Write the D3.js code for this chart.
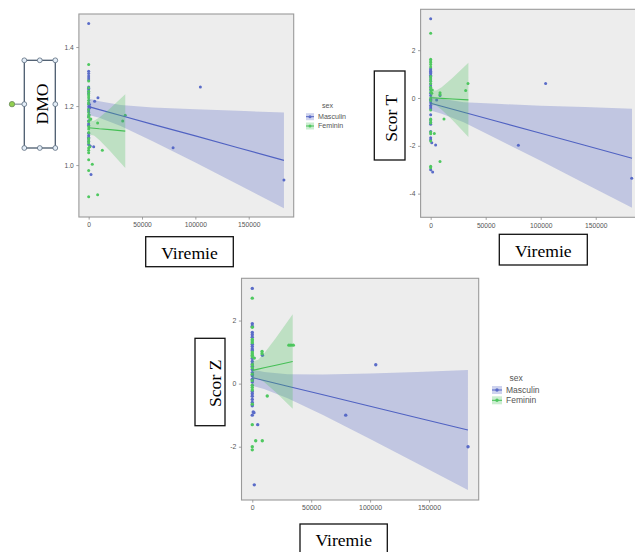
<!DOCTYPE html>
<html>
<head>
<meta charset="utf-8">
<script src="https://cdn.jsdelivr.net/npm/d3@7"></script>
<style>
  html, body { margin: 0; padding: 0; background: #ffffff; }
  svg { display: block; }
</style>
</head>
<body>
<svg id="fig" width="635" height="552"></svg>
<script>
// ---- shared axis values ----
const sexLevels = ["Masculin", "Feminin"];
const viremieTicks = [0, 50000, 100000, 150000];
const viremieTickLabels = ["0", "50000", "100000", "150000"];
const dmoTicks = [1.0, 1.2, 1.4];
const dmoTickLabels = ["1.0", "1.2", "1.4"];
const scorTTicks = [-4, -2, 0, 2];
const scorTTickLabels = ["-4", "-2", "0", "2"];
const scorZTicks = [-2, 0, 2];
const scorZTickLabels = ["-2", "0", "2"];

// ---- observations: [viremie, score] ----
const dmoMasculin = [
  [0,1.48],[0,1.318],[0,1.31],[0,1.302],[0,1.295],[0,1.288],[0,1.265],[0,1.26],[0,1.255],[0,1.248],
  [0,1.242],[0,1.205],[0,1.198],[0,1.19],[0,1.183],[0,1.165],[0,1.15],[0,1.14],[0,1.135],[0,1.108],
  [0,1.1],[0,1.094],[0,1.088],[0,1.08],[0,1.07],[1500,1.065],[1200,1.195],[800,1.205],[5600,1.216],
  [8700,1.228],[4700,1.062],[2200,0.968],[104700,1.265],[79100,1.059],[183000,0.949]
];
const dmoFeminin = [
  [0,1.341],[0,1.285],[0,1.262],[0,1.25],[0,1.242],[0,1.235],[0,1.228],[0,1.22],[0,1.212],[0,1.208],
  [0,1.188],[0,1.178],[0,1.17],[0,1.162],[1500,1.155],[0,1.148],[0,1.13],[0,1.122],[0,1.11],[0,1.09],
  [0,1.082],[0,1.075],[0,1.058],[0,1.05],[0,1.042],[0,1.018],[0,0.982],[0,0.893],[2000,1.156],
  [8400,1.143],[31900,1.149],[34300,1.169],[12800,1.05],[3400,1.003],[8400,0.899],[500,1.17],[1000,1.062]
];
const scorTMasculin = [
  [0,3.31],[0,1.22],[0,1.17],[0,1.12],[0,1.07],[0,1.02],[0,0.95],[0,0.88],[0,0.75],[0,0.6],
  [0,0.5],[0,0.35],[0,0.2],[0,0.1],[0,-0.05],[0,-0.12],[0,-0.2],[0,-0.3],[0,-0.38],[0,-0.45],
  [0,-0.7],[0,-0.9],[0,-1.02],[0,-1.1],[0,-1.4],[0,-1.66],[0,-1.75],[1000,-1.87],[4500,-1.97],
  [0,-3.0],[1800,-3.1],[8500,0.1],[5400,-0.08],[104500,0.61],[79700,-1.98],[182700,-3.36]
];
const scorTFeminin = [
  [0,2.71],[0,1.62],[0,1.55],[0,1.48],[0,1.4],[0,1.3],[0,0.9],[0,0.8],[0,0.7],[0,0.6],
  [0,0.45],[0,0.38],[0,0.25],[0,0.0],[0,-0.1],[0,-0.5],[0,-0.88],[0,-0.95],[0,-1.05],[0,-1.42],
  [0,-1.5],[0,-1.8],[0,-2.85],[0,-2.92],[1500,0.33],[1000,0.2],[3300,-1.48],[8500,-2.66],
  [12100,-0.88],[8500,0.22],[8500,0.15],[31800,0.31],[33900,0.61]
];
const scorZMasculin = [
  [0,3.02],[0,1.9],[0,1.82],[0,1.62],[0,1.55],[0,1.47],[0,1.25],[0,1.18],[0,1.1],[0,1.05],
  [0,0.8],[0,0.7],[0,0.62],[0,0.55],[0,0.45],[0,0.35],[0,0.25],[0,0.14],[0,0.05],[0,-0.25],
  [0,-0.32],[0,-0.4],[0,-0.5],[0,-0.6],[0,-0.7],[800,-0.9],[1400,-0.92],[0,-1.0],[4600,-1.3],
  [1700,-3.21],[8600,0.9],[104800,0.6],[79300,-1.0],[183100,-2.0]
];
const scorZFeminin = [
  [0,2.71],[0,1.79],[0,1.4],[0,1.35],[0,1.3],[0,1.0],[0,0.95],[0,0.9],[0,0.85],[0,0.6],
  [0,0.5],[0,0.3],[0,0.1],[0,-0.05],[0,-0.12],[0,-0.2],[0,-0.65],[0,-1.3],[0,-2.0],[0,-2.1],
  [1700,0.81],[8300,1.02],[8300,0.95],[31100,1.22],[32800,1.22],[34800,1.22],[12700,-0.39],
  [2900,-1.81],[8500,-1.81]
];

// ---- linear fits with 95% confidence band ----
const mascFitX = [0, 10000, 30000, 60000, 100000, 140000, 183000];
const femFitX = [0, 5000, 10000, 20000, 34300];

const dmoMascFit = [1.198, 1.188, 1.168, 1.138, 1.099, 1.059, 1.016];
const dmoMascLo  = [1.170, 1.160, 1.132, 1.081, 1.009, 0.934, 0.854];
const dmoMascHi  = [1.226, 1.216, 1.204, 1.195, 1.189, 1.184, 1.178];
const dmoFemFit  = [1.1265, 1.125, 1.123, 1.120, 1.115];
const dmoFemLo   = [1.104, 1.100, 1.085, 1.048, 0.990];
const dmoFemHi   = [1.150, 1.150, 1.161, 1.192, 1.240];

const scorTMascFit = [-0.22, -0.346, -0.597, -0.974, -1.477, -1.980, -2.52];
const scorTMascLo  = [-0.52, -0.656, -1.017, -1.704, -2.627, -3.580, -4.59];
const scorTMascHi  = [0.08, -0.036, -0.177, -0.244, -0.327, -0.380, -0.45];
const scorTFemFit  = [0.01, -0.003, -0.016, -0.042, -0.08];
const scorTFemLo   = [-0.28, -0.31, -0.49, -0.93, -1.63];
const scorTFemHi   = [0.30, 0.31, 0.45, 0.85, 1.47];

const scorZMascFit = [0.19, 0.099, -0.082, -0.354, -0.717, -1.080, -1.47];
const scorZMascLo  = [-0.07, -0.171, -0.462, -0.994, -1.757, -2.530, -3.37];
const scorZMascHi  = [0.45, 0.369, 0.298, 0.286, 0.323, 0.370, 0.43];
const scorZFemFit  = [0.42, 0.461, 0.502, 0.583, 0.70];
const scorZFemLo   = [0.14, 0.161, 0.052, -0.277, -0.80];
const scorZFemHi   = [0.70, 0.761, 0.952, 1.443, 2.20];

// ---- styling ----
const colour = { Masculin: "#5062c2", Feminin: "#45bf55" };
const pointColour = { Masculin: "#5a6cc8", Feminin: "#4fc860" };
const bandColour = { Masculin: "rgba(80,98,194,0.28)", Feminin: "rgba(69,191,85,0.28)" };

const svg = d3.select("#fig");
const xDomain = [-9150, 192150];

const zip = (xs, fit, lo, hi) => xs.map((x, i) => ({ x, fit: fit[i], lo: lo[i], hi: hi[i] }));

const panels = [
  {
    id: "dmo", rect: { x: 78.9, y: 14, w: 214.8, h: 203 }, yDomain: [0.824, 1.512],
    yTicks: dmoTicks, yLabels: dmoTickLabels, font: 6.7, r: 1.5,
    points: { Masculin: dmoMasculin, Feminin: dmoFeminin },
    fits: {
      Masculin: zip(mascFitX, dmoMascFit, dmoMascLo, dmoMascHi),
      Feminin: zip(femFitX, dmoFemFit, dmoFemLo, dmoFemHi)
    },
    legend: { keyX: 306, titleX: 322, titleY: 105.7, rowY: [116.7, 126], keyW: 8, keyH: 7, font: 7.1 }
  },
  {
    id: "scort", rect: { x: 420.6, y: 9.3, w: 221.5, h: 208 }, yDomain: [-4.99, 3.71],
    yTicks: scorTTicks, yLabels: scorTTickLabels, font: 6.7, r: 1.5,
    points: { Masculin: scorTMasculin, Feminin: scorTFeminin },
    fits: {
      Masculin: zip(mascFitX, scorTMascFit, scorTMascLo, scorTMascHi),
      Feminin: zip(femFitX, scorTFemFit, scorTFemLo, scorTFemHi)
    },
    legend: null
  },
  {
    id: "scorz", rect: { x: 241.5, y: 278.3, w: 237.2, h: 221.7 }, yDomain: [-3.69, 3.34],
    yTicks: scorZTicks, yLabels: scorZTickLabels, font: 6.9, r: 1.7,
    points: { Masculin: scorZMasculin, Feminin: scorZFeminin },
    fits: {
      Masculin: zip(mascFitX, scorZMascFit, scorZMascLo, scorZMascHi),
      Feminin: zip(femFitX, scorZFemFit, scorZFemLo, scorZFemHi)
    },
    legend: { keyX: 492, titleX: 509.5, titleY: 378.3, rowY: [390, 400.3], keyW: 10, keyH: 8, font: 8.5 }
  }
];

panels.forEach(p => {
  const R = p.rect;
  const x = d3.scaleLinear().domain(xDomain).range([R.x, R.x + R.w]);
  const y = d3.scaleLinear().domain(p.yDomain).range([R.y + R.h, R.y]);
  const g = svg.append("g").attr("class", "panel-" + p.id);

  // panel background
  g.append("rect").attr("x", R.x).attr("y", R.y).attr("width", R.w).attr("height", R.h)
    .attr("fill", "#ededed");

  const clipId = "clip-" + p.id;
  g.append("clipPath").attr("id", clipId).append("rect")
    .attr("x", R.x).attr("y", R.y).attr("width", R.w).attr("height", R.h);
  const plot = g.append("g").attr("clip-path", `url(#${clipId})`);

  // points
  sexLevels.forEach(s => {
    plot.append("g").selectAll("circle").data(p.points[s]).join("circle")
      .attr("cx", d => x(d[0])).attr("cy", d => y(d[1])).attr("r", p.r)
      .attr("fill", pointColour[s]);
  });

  // smooth: ribbon then line per group
  const area = d3.area().x(d => x(d.x)).y0(d => y(d.lo)).y1(d => y(d.hi));
  const line = d3.line().x(d => x(d.x)).y(d => y(d.fit));
  sexLevels.forEach(s => {
    plot.append("path").datum(p.fits[s]).attr("d", area).attr("fill", bandColour[s]);
    plot.append("path").datum(p.fits[s]).attr("d", line)
      .attr("fill", "none").attr("stroke", colour[s]).attr("stroke-width", 1.1);
  });

  // border
  g.append("rect").attr("x", R.x).attr("y", R.y).attr("width", R.w).attr("height", R.h)
    .attr("fill", "none").attr("stroke", "#9a9a9a").attr("stroke-width", 1.1);

  // axes
  const styleAxis = sel => {
    sel.select(".domain").remove();
    sel.selectAll(".tick line").attr("stroke", "#8a8a8a").attr("stroke-width", 0.8);
    sel.selectAll(".tick text").attr("fill", "#555555")
      .attr("font-family", "'Liberation Sans', Arial, sans-serif").attr("font-size", p.font);
  };
  g.append("g").attr("transform", `translate(0,${R.y + R.h})`)
    .call(d3.axisBottom(x).tickValues(viremieTicks)
      .tickFormat((d, i) => viremieTickLabels[i]).tickSize(2.6).tickPadding(3))
    .call(styleAxis);
  g.append("g").attr("transform", `translate(${R.x},0)`)
    .call(d3.axisLeft(y).tickValues(p.yTicks)
      .tickFormat((d, i) => p.yLabels[i]).tickSize(2.6).tickPadding(2.5))
    .call(styleAxis);

  // legend
  if (p.legend) {
    const L = p.legend;
    const lg = g.append("g").attr("font-family", "'Liberation Sans', Arial, sans-serif")
      .attr("font-size", L.font).attr("fill", "#555555");
    lg.append("text").attr("x", L.titleX).attr("y", L.titleY).attr("dy", "0.35em").text("sex");
    sexLevels.forEach((s, i) => {
      const cy = L.rowY[i];
      lg.append("rect").attr("x", L.keyX).attr("y", cy - L.keyH / 2)
        .attr("width", L.keyW).attr("height", L.keyH).attr("fill", bandColour[s]);
      lg.append("line").attr("x1", L.keyX).attr("x2", L.keyX + L.keyW).attr("y1", cy).attr("y2", cy)
        .attr("stroke", colour[s]).attr("stroke-width", 1);
      lg.append("circle").attr("cx", L.keyX + L.keyW / 2).attr("cy", cy).attr("r", p.r)
        .attr("fill", pointColour[s]);
      lg.append("text").attr("x", L.keyX + L.keyW + 4).attr("y", cy).attr("dy", "0.35em").text(s);
    });
  }
});

// ---- axis title boxes ----
const serif = "'Liberation Serif', 'Times New Roman', serif";
const titleBoxes = [
  { text: "DMO", x: 24.3, y: 60.3, w: 31, h: 87.7, tx: 48.3, ty: 104, rotate: true, selected: true },
  { text: "Viremie", x: 145.7, y: 236.7, w: 87.6, h: 30, tx: 189.5, ty: 259, rotate: false },
  { text: "Scor T", x: 374.3, y: 71, w: 30.7, h: 89, tx: 397.3, ty: 118.3, rotate: true },
  { text: "Viremie", x: 499.3, y: 234.3, w: 88, h: 30.7, tx: 543.3, ty: 256.7, rotate: false },
  { text: "Scor Z", x: 195, y: 338.3, w: 30, h: 87.4, tx: 220.7, ty: 383.3, rotate: true },
  { text: "Viremie", x: 300, y: 524, w: 87.3, h: 30, tx: 343.7, ty: 546, rotate: false }
];

titleBoxes.forEach(b => {
  const g = svg.append("g");
  g.append("rect").attr("x", b.x).attr("y", b.y).attr("width", b.w).attr("height", b.h)
    .attr("fill", "#ffffff")
    .attr("stroke", b.selected ? "#4b5b6e" : "#111111").attr("stroke-width", 1.3);
  const t = g.append("text").attr("font-family", serif).attr("font-size", 17.6)
    .attr("fill", "#000000").attr("text-anchor", "middle").text(b.text);
  if (b.rotate) t.attr("transform", `translate(${b.tx},${b.ty}) rotate(-90)`);
  else t.attr("x", b.tx).attr("y", b.ty);

  if (b.selected) {
    const midY = b.y + b.h / 2;
    // rotation handle and its stem
    g.append("line").attr("x1", 14.6).attr("x2", b.x).attr("y1", midY).attr("y2", midY)
      .attr("stroke", "#5b6b7d").attr("stroke-width", 0.9);
    g.append("circle").attr("cx", 12).attr("cy", midY).attr("r", 2.7)
      .attr("fill", "#92d050").attr("stroke", "#6b8a5c").attr("stroke-width", 0.8);
    // resize handles
    const hx = [b.x, b.x + b.w / 2, b.x + b.w];
    const hy = [b.y, midY, b.y + b.h];
    const handles = [];
    hx.forEach((px, i) => hy.forEach((py, j) => { if (!(i === 1 && j === 1)) handles.push([px, py]); }));
    g.selectAll("circle.h").data(handles).join("circle").attr("class", "h")
      .attr("cx", d => d[0]).attr("cy", d => d[1]).attr("r", 2.4)
      .attr("fill", "#e4eef8").attr("stroke", "#5b6b7d").attr("stroke-width", 0.8);
  }
});
</script>
</body>
</html>
